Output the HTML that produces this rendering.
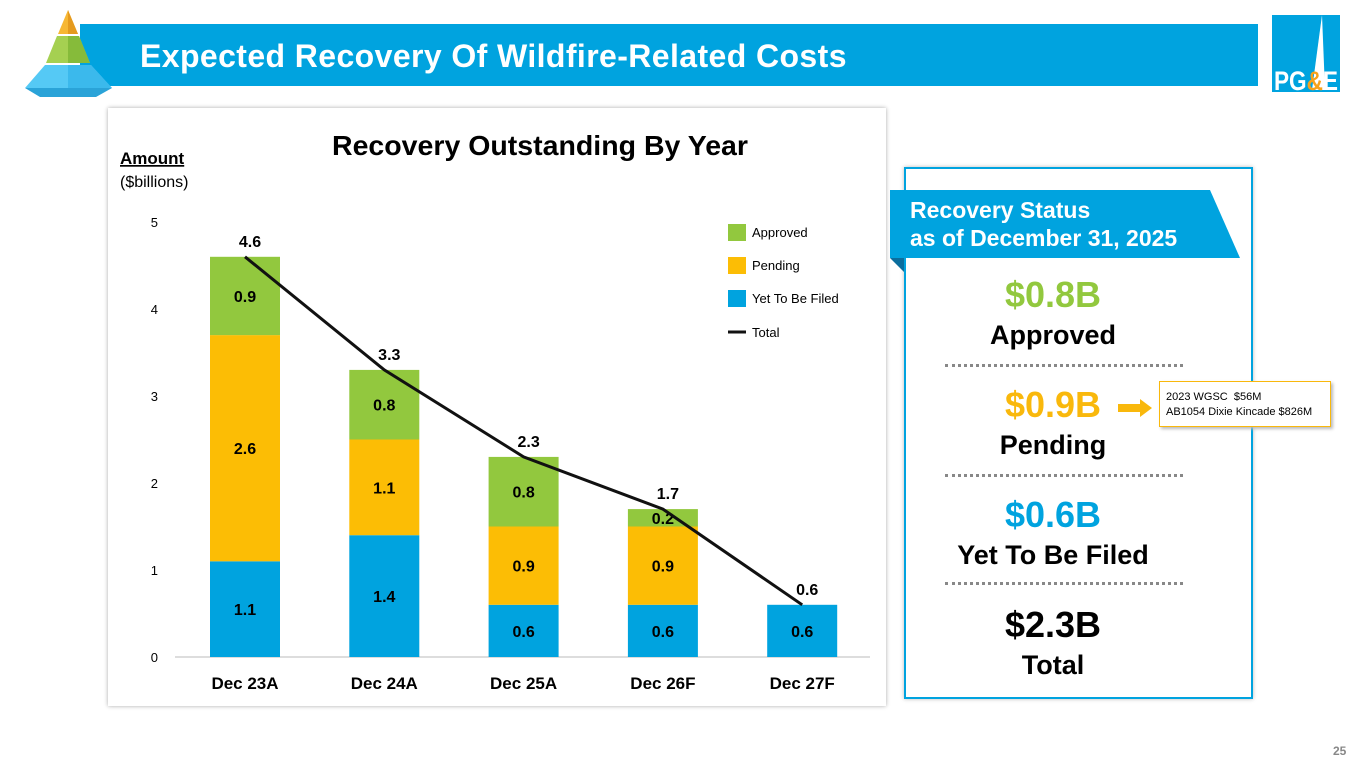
<!DOCTYPE html>
<html><head><meta charset="utf-8"><style>
body{margin:0;width:1365px;height:768px;background:#fff;position:relative;overflow:hidden;font-family:"Liberation Sans",Arial,sans-serif}
.abs{position:absolute}
</style></head><body>
<div class="abs" style="left:80px;top:24px;width:1178px;height:62px;background:#00a3df"></div>
<div class="abs" style="left:140px;top:38px;color:#fff;font-size:32px;font-weight:bold;letter-spacing:0.4px">Expected Recovery Of Wildfire-Related Costs</div>
<svg class="abs" style="left:20px;top:6px" width="100" height="94">
<polygon points="48,4 38,28 58,28" fill="#f7b733"/>
<polygon points="48,4 58,28 48,28" fill="#e59a1e"/>
<polygon points="37,30 59,30 70,57 26,57" fill="#a5d051"/>
<polygon points="48,30 59,30 70,57 48,57" fill="#86bb3a"/>
<polygon points="25,59 71,59 92,82 5,82" fill="#55c9f5"/>
<polygon points="48,59 71,59 92,82 48,82" fill="#3bb9ec"/>
<polygon points="5,82 92,82 76,91 20,91" fill="#2aa3d8"/>
</svg>
<div class="abs" style="left:1272px;top:15px;width:68px;height:77px;background:#00a3df">
<svg width="68" height="77"><polygon points="50,0 40,75 53,75" fill="#fff"/><text x="2" y="75" font-size="27" font-weight="bold" fill="#fff" font-family="Liberation Sans Narrow,Liberation Sans" textLength="64" lengthAdjust="spacingAndGlyphs">PG<tspan fill="#f7a21b">&amp;</tspan>E</text></svg></div>
<div class="abs" style="left:108px;top:108px;width:778px;height:598px;background:#fff;box-shadow:0 0 4px #aaa"></div>
<svg id="chart" class="abs" style="left:0;top:0" width="900" height="720"></svg>
<div class="abs" style="left:904px;top:167px;width:349px;height:532px;border:2px solid #00a3df;box-sizing:border-box;background:#fff;box-shadow:0 0 4px #bbb"></div>
<svg class="abs" style="left:890px;top:190px" width="352" height="82">
<polygon points="0,0 320,0 350,68 0,68" fill="#00a3df"/><polygon points="0,68 14,68 14,82" fill="#0b6e9e"/>
<text x="20" y="28" font-size="23" font-weight="bold" fill="#fff">Recovery Status</text>
<text x="20" y="56" font-size="23" font-weight="bold" fill="#fff">as of December 31, 2025</text></svg>
<div class="abs" style="left:904px;top:274px;width:298px;text-align:center;font-weight:bold">
<div style="color:#92c83e;font-size:36px;height:46px">$0.8B</div>
<div style="font-size:27px;height:45px">Approved</div>
</div>
<div class="abs" style="left:904px;top:384px;width:298px;text-align:center;font-weight:bold">
<div style="color:#f9b80c;font-size:36px;height:46px">$0.9B</div>
<div style="font-size:27px;height:45px">Pending</div>
</div>
<div class="abs" style="left:904px;top:494px;width:298px;text-align:center;font-weight:bold">
<div style="color:#00a3df;font-size:36px;height:46px">$0.6B</div>
<div style="font-size:27px;height:45px">Yet To Be Filed</div>
</div>
<div class="abs" style="left:904px;top:604px;width:298px;text-align:center;font-weight:bold">
<div style="font-size:36px;height:46px">$2.3B</div>
<div style="font-size:27px;height:45px">Total</div>
</div>
<div class="abs" style="left:945px;top:364px;width:238px;border-top:3px dotted #888"></div>
<div class="abs" style="left:945px;top:474px;width:238px;border-top:3px dotted #888"></div>
<div class="abs" style="left:945px;top:582px;width:238px;border-top:3px dotted #888"></div>
<svg class="abs" style="left:1118px;top:398px" width="36" height="20"><polygon points="0,6 22,6 22,1 34,10 22,19 22,14 0,14" fill="#f9b80c"/></svg>
<div class="abs" style="left:1159px;top:381px;width:172px;height:46px;border:1px solid #f9b80c;box-sizing:border-box;box-shadow:2px 2px 3px #bbb;background:#fff;font-size:11px;padding:8px 0 0 6px;line-height:15px">2023 WGSC&nbsp; $56M<br>AB1054 Dixie Kincade $826M</div>
<div class="abs" style="left:1333px;top:744px;font-size:12px;color:#888;font-weight:bold">25</div>
<script>
const categories=["Dec 23A","Dec 24A","Dec 25A","Dec 26F","Dec 27F"];
const yetToBeFiled=[1.1,1.4,0.6,0.6,0.6];
const pending=[2.6,1.1,0.9,0.9,0];
const approved=[0.9,0.8,0.8,0.2,0];
const totals=[4.6,3.3,2.3,1.7,0.6];
const yTicks=[0,1,2,3,4,5];
const svg=document.getElementById('chart');const NS='http://www.w3.org/2000/svg';
function y(v){return 657-v*87;}
function x(i){return 245+i*139.3;}
function el(t,a,txt){const e=document.createElementNS(NS,t);for(const k in a)e.setAttribute(k,a[k]);if(txt!==undefined)e.textContent=txt;svg.appendChild(e);return e;}
let e;
e=el('text',{x:540,y:155,'font-size':28,'font-weight':'bold','text-anchor':'middle',textLength:416,lengthAdjust:'spacingAndGlyphs'},'Recovery Outstanding By Year');


e=el('text',{x:120,y:164,'font-size':17,'font-weight':'bold','text-decoration':'underline'},'Amount');


e=el('text',{x:120,y:187,'font-size':16},'($billions)');


yTicks.forEach(t=>{const k=el('text',{x:158,y:y(t)+5,'font-size':13,'text-anchor':'end'},t);

});
e=el('line',{x1:175,x2:870,y1:657,y2:657,stroke:'#bbb'});


const series=[[yetToBeFiled,'#00a3df','yet-to-be-filed'],[pending,'#fcbd05','pending'],[approved,'#92c83e','approved']];
categories.forEach((c,i)=>{let base=0;
series.forEach(([arr,col,nm])=>{const v=arr[i];if(v<=0)return;
const r=el('rect',{x:x(i)-35,y:y(base+v),width:70,height:y(base)-y(base+v),fill:col});


const t=el('text',{x:x(i),y:(y(base)+y(base+v))/2+6,'font-size':16,'font-weight':'bold','text-anchor':'middle'},v.toFixed(1));


base+=v;});
const l=el('text',{x:x(i),y:689,'font-size':17,'font-weight':'bold','text-anchor':'middle'},c);


const tt=el('text',{x:x(i)+5,y:y(totals[i])-10,'font-size':16,'font-weight':'bold','text-anchor':'middle'},totals[i].toFixed(1));


});
e=el('polyline',{points:totals.map((v,i)=>x(i)+','+y(v)).join(' '),fill:'none',stroke:'#111','stroke-width':3});


const leg=[['Approved','#92c83e'],['Pending','#fcbd05'],['Yet To Be Filed','#00a3df']];
leg.forEach(([n,c],i)=>{const r=el('rect',{x:728,y:224+i*33,width:18,height:17,fill:c});


const t=el('text',{x:752,y:237+i*33,'font-size':13},n);

});
e=el('line',{x1:728,x2:746,y1:332,y2:332,stroke:'#111','stroke-width':3});


e=el('text',{x:752,y:337,'font-size':13},'Total');


</script>
</body></html>
